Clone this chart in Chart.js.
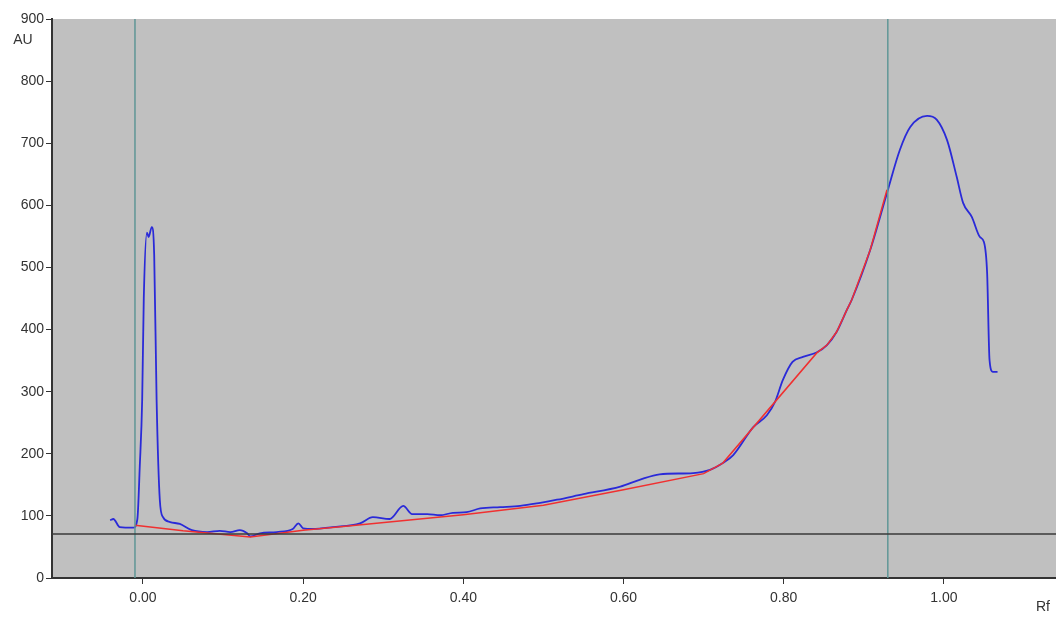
<!DOCTYPE html>
<html>
<head>
<meta charset="utf-8">
<script src="https://cdn.jsdelivr.net/npm/chart.js@4.4.1/dist/chart.umd.min.js"></script>
<style>
  body { margin: 0; background: #fff; }
  #wrap { width: 1056px; height: 622px; }
</style>
</head>
<body>
<div id="wrap"><canvas id="densito"></canvas></div>
<script>
// scan track (Rf, AU)
var scanRf = [-0.041, -0.037, -0.029, -0.012, -0.007, -0.004, -0.001, 0.001, 0.005, 0.007, 0.011, 0.014, 0.017, 0.021, 0.025,
  0.034, 0.046, 0.061, 0.080, 0.096, 0.109, 0.121, 0.130, 0.134, 0.146, 0.167, 0.187, 0.194, 0.200, 0.212, 0.237,
  0.271, 0.287, 0.308, 0.325, 0.336, 0.355, 0.371, 0.387, 0.404, 0.421, 0.446, 0.471, 0.496, 0.517, 0.550, 0.596,
  0.620, 0.645, 0.687, 0.708, 0.724, 0.737, 0.762, 0.779, 0.789, 0.799, 0.811, 0.824, 0.841, 0.854, 0.866, 0.879,
  0.885, 0.908, 0.929, 0.945, 0.958, 0.979, 0.991, 1.004, 1.016, 1.024, 1.035, 1.045, 1.050, 1.054, 1.057, 1.061, 1.067];
var scanAU = [93, 95, 82, 81, 95, 180, 287, 450, 556, 549, 565, 520, 287, 126, 98,
  90, 87, 77, 74, 76, 74, 77, 72, 67, 72, 74, 79, 88, 80, 79, 82,
  88, 98, 95, 116, 103, 103, 101, 105, 106, 112, 114, 116, 121, 126, 135, 147,
  158, 167, 169, 174, 185, 198, 243, 262, 283, 319, 348, 356, 363, 375, 396, 432,
  448, 528, 620, 689, 726, 744, 738, 705, 646, 604, 581, 549, 541, 491, 351, 332, 332];

// baseline (red)
var baseRf = [-0.010, 0.050, 0.134, 0.200, 0.250, 0.400, 0.500, 0.600, 0.700, 0.724, 0.841, 0.854, 0.866, 0.879, 0.885, 0.908, 0.929];
var baseAU = [85, 76, 66, 77, 83, 102, 117, 142, 168, 185, 362, 375, 396, 432, 448, 528, 625];

// integration limits and threshold
var startRf = -0.010;
var endRf = 0.930;
var thresholdAU = 71;

var xTicks = [0.0, 0.2, 0.4, 0.6, 0.8, 1.0];
var yTicks = [0, 100, 200, 300, 400, 500, 600, 700, 800, 900];
var xMin = -0.1136, xMax = 1.14;
var yMin = 0, yMax = 900;

function pairs(xs, ys) {
    return xs.map(function (x, i) { return { x: x, y: ys[i] }; });
}

var plotBack = {
    id: 'plotBack',
    beforeDraw: function (chart) {
        var a = chart.chartArea, c = chart.ctx;
        c.save();
        c.fillStyle = '#c0c0c0';
        c.fillRect(a.left, a.top, a.right - a.left, a.bottom - a.top);
        c.restore();
    },
    afterDraw: function (chart) {
        var c = chart.ctx;
        c.save();
        c.fillStyle = '#333';
        c.font = '14px "Liberation Sans", Arial, sans-serif';
        c.textAlign = 'center';
        c.textBaseline = 'middle';
        c.fillText('AU', 23, 40);
        c.fillText('Rf', 1043, 607);
        c.restore();
    }
};

var tickFont = { family: '"Liberation Sans", Arial, sans-serif', size: 14 };

var graph = new Chart(document.getElementById('densito').getContext('2d'), {
    type: 'scatter',
    data: {
        datasets: [
            {
                data: pairs([xMin, xMax], [thresholdAU, thresholdAU]),
                showLine: true, borderColor: '#3a3a3a', borderWidth: 1.5, pointRadius: 0
            },
            {
                data: pairs([startRf, startRf], [yMin, yMax]),
                showLine: true, borderColor: '#5f9696', borderWidth: 1.5, pointRadius: 0
            },
            {
                data: pairs([endRf, endRf], [yMin, yMax]),
                showLine: true, borderColor: '#5f9696', borderWidth: 1.5, pointRadius: 0
            },
            {
                data: pairs(baseRf, baseAU),
                showLine: true, borderColor: '#f03030', borderWidth: 1.5, pointRadius: 0
            },
            {
                data: pairs(scanRf, scanAU),
                showLine: true, borderColor: '#2a2ad8', borderWidth: 1.8, pointRadius: 0,
                cubicInterpolationMode: 'monotone'
            }
        ]
    },
    options: {
        responsive: true,
        maintainAspectRatio: false,
        animation: false,
        layout: { padding: { top: 19, right: 0, left: 0, bottom: 0 } },
        plugins: { legend: { display: false }, tooltip: { enabled: false } },
        scales: {
            x: {
                type: 'linear', min: xMin, max: xMax,
                afterBuildTicks: function (s) { s.ticks = xTicks.map(function (v) { return { value: v }; }); },
                afterFit: function (s) { s.height = 44; },
                ticks: {
                    color: '#333', font: tickFont, padding: 6, maxRotation: 0,
                    callback: function (v) { return Number(v).toFixed(2); }
                },
                grid: { drawOnChartArea: false, drawTicks: true, tickLength: 6, color: '#333' },
                border: { color: '#333', width: 2 }
            },
            y: {
                min: yMin, max: yMax,
                afterBuildTicks: function (s) { s.ticks = yTicks.map(function (v) { return { value: v }; }); },
                afterFit: function (s) { s.width = 52; },
                ticks: { color: '#333', font: tickFont, padding: 2 },
                grid: { drawOnChartArea: false, drawTicks: true, tickLength: 6, color: '#333' },
                border: { color: '#333', width: 2 }
            }
        }
    },
    plugins: [plotBack]
});
</script>
</body>
</html>
